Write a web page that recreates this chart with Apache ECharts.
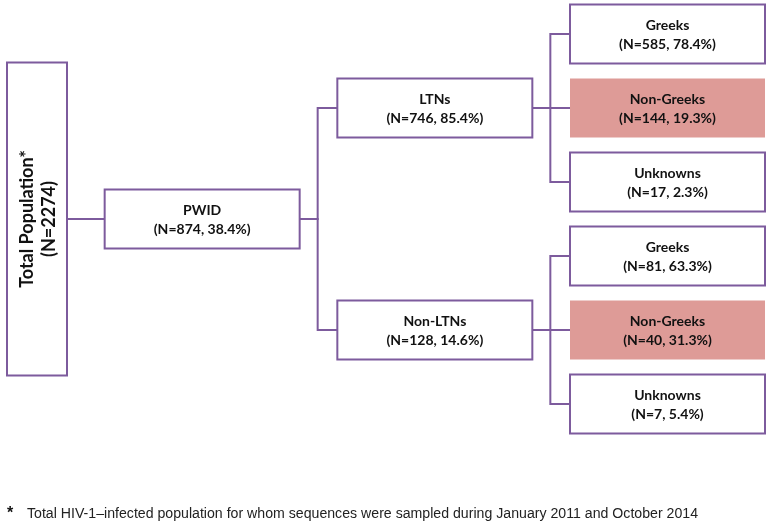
<!DOCTYPE html>
<html><head><meta charset="utf-8">
<script src="https://cdn.jsdelivr.net/npm/echarts@6/dist/echarts.min.js"></script>
<style>html,body{margin:0;padding:0;background:#fff}#c{width:772px;height:526px}</style>
</head><body><div id="c"></div>
<script>
// ---- data ----
const rootName = 'Total Population*';
const rootN = 2274;
const groupNames = ['PWID'];
const groupN = [874];
const groupPct = [38.4];
const subNames = ['LTNs', 'Non-LTNs'];
const subN = [746, 128];
const subPct = [85.4, 14.6];
const originNames = ['Greeks', 'Non-Greeks', 'Unknowns'];
const originN = [[585, 144, 17], [81, 40, 7]];
const originPct = [[78.4, 19.3, 2.3], [63.3, 31.3, 5.4]];
const highlightName = 'Non-Greeks';
const footStar = '*';
const footnote = 'Total HIV-1\u2013infected population for whom sequences were sampled during January 2011 and October 2014';

// ---- build tree layout (levels / rows) from the data ----
const nodes = [];
const edges = [];
const subIdx = [];
subNames.forEach(function (sn, s) {
  const leafRows = [];
  originNames.forEach(function (on, o) {
    const row = s * originNames.length + o;
    leafRows.push(row);
    nodes.push({level: 3, row: row, name: on, n: originN[s][o], pct: originPct[s][o], hl: on === highlightName});
  });
  const start = nodes.length - originNames.length;
  const r = leafRows.reduce(function (a, b) { return a + b; }, 0) / leafRows.length;
  nodes.push({level: 2, row: r, name: sn, n: subN[s], pct: subPct[s]});
  const si = nodes.length - 1;
  subIdx.push(si);
  for (let k = start; k < start + originNames.length; k++) edges.push([si, k]);
});
const gRow = subIdx.reduce(function (a, i) { return a + nodes[i].row; }, 0) / subIdx.length;
nodes.push({level: 1, row: gRow, name: groupNames[0], n: groupN[0], pct: groupPct[0]});
const gi = nodes.length - 1;
subIdx.forEach(function (si) { edges.push([gi, si]); });
nodes.push({level: 0, row: gRow, name: rootName, n: rootN, pct: null});
const ri = nodes.length - 1;
edges.push([ri, gi]);

// ---- styles ----
const PURPLE = '#7d5b9d';
const PINK = '#de9b97';
const FONT = 'Lato, "Open Sans", sans-serif';
const FOOT_FONT = '14px "Liberation Sans", Arial, sans-serif';
function boxW(level) { return level === 0 ? 60 : 195; }
function boxH(level) { return level === 0 ? 313 : 59; }
function labelOf(nd) {
  if (nd.pct === null) return nd.name + '\n(N=' + nd.n + ')';
  return nd.name + '\n(N=' + nd.n + ', ' + nd.pct.toFixed(1) + '%)';
}
// fit footnote to the (condensed) width used in the reference
const mctx = document.createElement('canvas').getContext('2d');
mctx.font = FOOT_FONT;
const footScale = 671 / mctx.measureText(footnote).width;

const chart = echarts.init(document.getElementById('c'), null, {renderer: 'canvas'});
chart.setOption({
  animation: false,
  backgroundColor: '#ffffff',
  grid: {left: 67, right: 7, top: 34, bottom: 122},
  xAxis: {type: 'value', min: 0, max: 3, show: false},
  yAxis: {type: 'value', min: 0, max: 5, inverse: true, show: false},
  series: [
    {
      type: 'custom',
      clip: false,
      silent: true,
      data: edges.map(function (e) { return [nodes[e[0]].level, nodes[e[0]].row, nodes[e[1]].level, nodes[e[1]].row]; }),
      renderItem: function (params, api) {
        const p = api.coord([api.value(0), api.value(1)]);
        const c = api.coord([api.value(2), api.value(3)]);
        const cl = c[0] - boxW(api.value(2));
        const fx = p[0] + 18;
        return {
          type: 'polyline',
          shape: {points: [[p[0], p[1]], [fx, p[1]], [fx, c[1]], [cl, c[1]]]},
          style: {stroke: PURPLE, lineWidth: 2, fill: null}
        };
      }
    },
    {
      type: 'custom',
      clip: false,
      silent: true,
      data: nodes.map(function (nd) { return [nd.level, nd.row]; }),
      renderItem: function (params, api) {
        const nd = nodes[params.dataIndex];
        const p = api.coord([api.value(0), api.value(1)]);
        const w = boxW(nd.level), h = boxH(nd.level);
        const x = p[0] - w, y = p[1] - h / 2;
        const rect = {
          type: 'rect',
          shape: {x: x, y: y, width: w, height: h},
          style: nd.hl ? {fill: PINK, stroke: null} : {fill: '#ffffff', stroke: PURPLE, lineWidth: 2}
        };
        const txt = nd.level === 0 ? {
          type: 'text',
          x: x + w / 2 + 1, y: p[1], rotation: Math.PI / 2,
          style: {text: labelOf(nd), x: 0, y: 0, align: 'center', verticalAlign: 'middle',
            font: 'bold 18px ' + FONT, lineHeight: 22, fill: '#111'}
        } : {
          type: 'text',
          x: x + w / 2, y: p[1] + 1,
          style: {text: labelOf(nd), x: 0, y: 0, align: 'center', verticalAlign: 'middle',
            font: 'bold 14px ' + FONT, lineHeight: 19, fill: '#111'}
        };
        return {type: 'group', children: [rect, txt]};
      }
    }
  ],
  graphic: [
    {type: 'text', x: 7, y: 506, style: {text: footStar, font: 'bold 16px "Liberation Sans", Arial, sans-serif', fill: '#111'}},
    {type: 'text', x: 27, y: 507, scaleX: footScale, style: {text: footnote, font: FOOT_FONT, fill: '#222'}}
  ]
});
</script>
</body></html>
